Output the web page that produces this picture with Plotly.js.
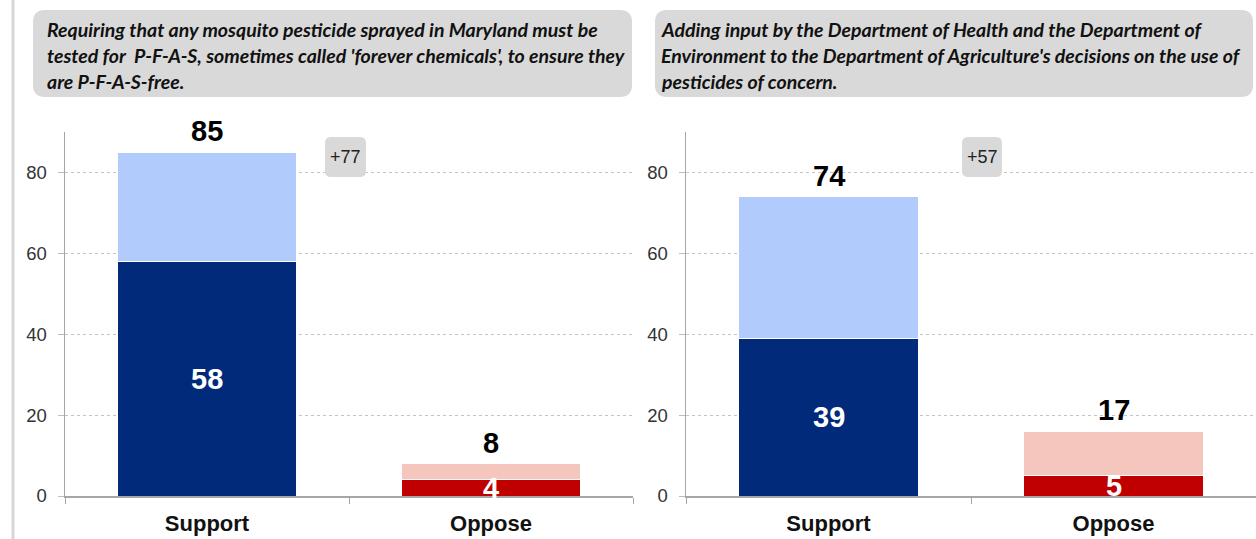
<!DOCTYPE html>
<html>
<head>
<meta charset="utf-8">
<script src="https://cdn.plot.ly/plotly-3.0.1.min.js"></script>
<style>html,body{margin:0;padding:0;background:#fff;}#chart{width:1256px;height:539px;}</style>
</head>
<body>
<div id="chart"></div>
<script>
// ---- data ----
const categories = ["Support", "Oppose"];
// panel 1: PFAS testing
const p1Strong = [58, 4];
const p1Somewhat = [27, 4];
const p1Totals = [85, 8];
const p1Margin = "+77";
const p1Title = [
  "Requiring that any mosquito pesticide sprayed in Maryland must be",
  "tested for  P-F-A-S, sometimes called 'forever chemicals', to ensure they",
  "are P-F-A-S-free."
];
// panel 2: Dept. of Health / Environment input
const p2Strong = [39, 5];
const p2Somewhat = [35, 11];
const p2Totals = [74, 17];
const p2Margin = "+57";
const p2Title = [
  "Adding input by the Department of Health and the Department of",
  "Environment to the Department of Agriculture's decisions on the use of",
  "pesticides of concern."
];
const yTicks = [0, 20, 40, 60, 80];

// ---- styles ----
const W = 1256, H = 539;
const strongColors = ["#012a7a", "#c00000"];
const somewhatColors = ["#b1cbfd", "#f4c6bd"];
const px = v => v / W;
const py = v => 1 - v / H;

function bars(strong, somewhat, xa, ya) {
  return [
    {type: "bar", x: categories, y: strong, xaxis: xa, yaxis: ya, width: 0.63,
     marker: {color: strongColors, line: {color: "#ffffff", width: 1}}, hoverinfo: "skip"},
    {type: "bar", x: categories, y: somewhat, xaxis: xa, yaxis: ya, width: 0.63,
     marker: {color: somewhatColors, line: {color: "#ffffff", width: 1}}, hoverinfo: "skip"}
  ];
}

const data = [].concat(bars(p1Strong, p1Somewhat, "x", "y"), bars(p2Strong, p2Somewhat, "x2", "y2"));

const yDomain = [py(496), py(132)];
function yAxis(anchor) {
  return {
    domain: yDomain, anchor: anchor, range: [0, 90], tickvals: yTicks,
    showgrid: true, gridcolor: "#c4c4c4", griddash: "3px,3px", gridwidth: 1,
    showline: true, linecolor: "#a6a6a6", linewidth: 1.5,
    ticks: "outside", ticklen: 6, tickcolor: "#bdbdbd",
    ticklabelstandoff: 7,
    tickfont: {family: "Liberation Sans, Arial, sans-serif", size: 18.5, color: "#333333"},
    zeroline: false, fixedrange: true
  };
}
function xAxis(domain, anchor) {
  return {
    domain: domain, anchor: anchor, type: "category", range: [-0.5, 1.5],
    showline: true, linecolor: "#a6a6a6", linewidth: 1.5,
    ticks: "outside", tickson: "boundaries", ticklen: 6, tickcolor: "#a6a6a6",
    ticklabelstandoff: 7,
    tickfont: {family: "Liberation Sans, Arial, sans-serif", size: 22, color: "#111111"},
    tickprefix: "<b>", ticksuffix: "</b>",
    showgrid: false, fixedrange: true
  };
}

function roundRect(x0, y0, x1, y1, r) {
  const rx = r / W, ry = r / H;
  const X0 = px(x0), X1 = px(x1), Y0 = py(y0), Y1 = py(y1);
  return `M ${X0 + rx} ${Y0} L ${X1 - rx} ${Y0} Q ${X1} ${Y0} ${X1} ${Y0 - ry} ` +
         `L ${X1} ${Y1 + ry} Q ${X1} ${Y1} ${X1 - rx} ${Y1} L ${X0 + rx} ${Y1} ` +
         `Q ${X0} ${Y1} ${X0} ${Y1 + ry} L ${X0} ${Y0 - ry} Q ${X0} ${Y0} ${X0 + rx} ${Y0} Z`;
}

const shapes = [
  {type: "line", xref: "paper", yref: "paper", x0: px(13), x1: px(13), y0: 0, y1: 1,
   line: {color: "#d6d6d6", width: 3}, layer: "below"},
  {type: "path", xref: "paper", yref: "paper", path: roundRect(33, 10, 632, 97, 12),
   fillcolor: "#d9d9d9", line: {width: 0}, layer: "below"},
  {type: "path", xref: "paper", yref: "paper", path: roundRect(655, 10, 1253, 97, 12),
   fillcolor: "#d9d9d9", line: {width: 0}, layer: "below"},
  {type: "path", xref: "paper", yref: "paper", path: roundRect(325, 137, 366, 177, 6),
   fillcolor: "#d9d9d9", line: {width: 0}, layer: "above"},
  {type: "path", xref: "paper", yref: "paper", path: roundRect(962, 137, 1002, 177, 6),
   fillcolor: "#d9d9d9", line: {width: 0}, layer: "above"}
];

const annotations = [];
const titleFont = {family: "Lato, Liberation Sans, sans-serif", size: 19.5, color: "#111111"};
const lineYs = [29, 55, 81];
function addTitle(lines, x) {
  lines.forEach((t, i) => annotations.push({
    xref: "paper", yref: "paper", x: px(x), y: py(lineYs[i]), xanchor: "left", yanchor: "middle",
    text: "<b><i>" + t + "</i></b>", showarrow: false, font: titleFont
  }));
}
addTitle(p1Title, 45);
addTitle(p2Title, 659);

const numFont = {family: "Liberation Sans, Arial, sans-serif", size: 29, color: "#000000"};
const inFont = {family: "Liberation Sans, Arial, sans-serif", size: 29, color: "#ffffff"};
function addValues(strong, somewhat, totals, xa, ya) {
  categories.forEach((c, i) => {
    annotations.push({xref: xa, yref: ya, x: c, y: strong[i] + somewhat[i], yanchor: "bottom",
      yshift: 3, text: "<b>" + totals[i] + "</b>", showarrow: false, font: numFont});
    annotations.push({xref: xa, yref: ya, x: c, y: strong[i] / 2, yanchor: "middle",
      text: "<b>" + strong[i] + "</b>", showarrow: false, font: inFont});
  });
}
addValues(p1Strong, p1Somewhat, p1Totals, "x", "y");
addValues(p2Strong, p2Somewhat, p2Totals, "x2", "y2");

const marginFont = {family: "Liberation Sans, Arial, sans-serif", size: 18, color: "#222222"};
annotations.push({xref: "paper", yref: "paper", x: px(345.5), y: py(157), xanchor: "center", yanchor: "middle",
  text: p1Margin, showarrow: false, font: marginFont});
annotations.push({xref: "paper", yref: "paper", x: px(982), y: py(157), xanchor: "center", yanchor: "middle",
  text: p2Margin, showarrow: false, font: marginFont});

const layout = {
  width: W, height: H, margin: {l: 0, r: 0, t: 0, b: 0},
  paper_bgcolor: "#ffffff", plot_bgcolor: "rgba(0,0,0,0)",
  barmode: "stack", showlegend: false, bargap: 0.37,
  xaxis: xAxis([px(65), px(633)], "y"),
  yaxis: yAxis("x"),
  xaxis2: xAxis([px(686), 1], "y2"),
  yaxis2: yAxis("x2"),
  shapes: shapes, annotations: annotations
};

Plotly.newPlot("chart", data, layout, {displayModeBar: false, staticPlot: true});
</script>
</body>
</html>
